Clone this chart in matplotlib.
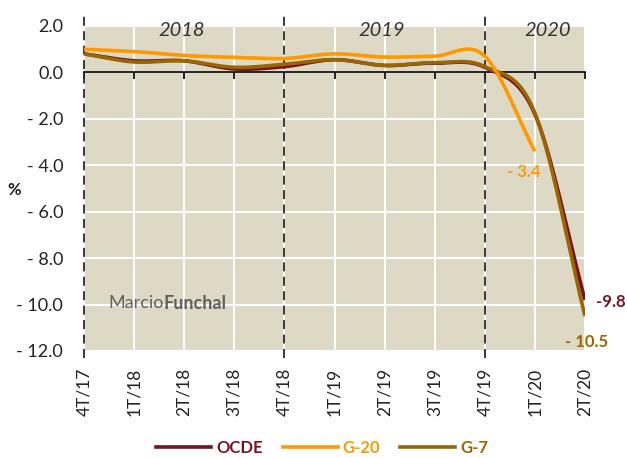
import numpy as np
import matplotlib
matplotlib.use("Agg")
import matplotlib.pyplot as plt
from matplotlib.lines import Line2D

plt.rcParams['font.family'] = ['Lato', 'DejaVu Sans']

quarters = ["4T/17", "1T/18", "2T/18", "3T/18", "4T/18", "1T/19", "2T/19",
            "3T/19", "4T/19", "1T/20", "2T/20"]
ocde = [0.8, 0.5, 0.5, 0.15, 0.25, 0.55, 0.3, 0.4, 0.22, -1.8, -9.8]
g20 = [1.0, 0.9, 0.73, 0.65, 0.6, 0.8, 0.66, 0.7, 0.7, -3.4]
g7 = [0.8, 0.45, 0.5, 0.22, 0.35, 0.55, 0.3, 0.42, 0.25, -1.75, -10.5]
years = ["2018", "2019", "2020"]
yticks = [2, 0, -2, -4, -6, -8, -10, -12]

c_ocde = "#7b1020"
c_g20 = "#ff9900"
c_g7 = "#996600"
bg = "#ddd9c4"


# Excel-like smoothed line (Catmull-Rom through the points)
def smooth(y, n=30):
    y = np.asarray(y, float)
    x = np.arange(len(y), dtype=float)
    xs, ys = [], []
    for i in range(len(y) - 1):
        p0 = y[i - 1] if i > 0 else y[i]
        p1, p2 = y[i], y[i + 1]
        p3 = y[i + 2] if i + 2 < len(y) else y[i + 1]
        t = np.linspace(0, 1, n)
        m1 = (p2 - p0) / 2 if i > 0 else (p2 - p1)
        m2 = (p3 - p1) / 2 if i + 2 < len(y) else (p2 - p1)
        h00 = 2 * t**3 - 3 * t**2 + 1
        h10 = t**3 - 2 * t**2 + t
        h01 = -2 * t**3 + 3 * t**2
        h11 = t**3 - t**2
        xs.append(x[i] + t)
        ys.append(h00 * p1 + h10 * m1 + h01 * p2 + h11 * m2)
    return np.concatenate(xs), np.concatenate(ys)


fig = plt.figure(figsize=(6.27, 4.58), dpi=100)
ax = fig.add_axes([84 / 627, 1 - 351 / 458, 501 / 627, 325 / 458])
ax.set_facecolor(bg)
ax.set_xlim(0, len(quarters) - 1)
ax.set_ylim(-12, 2)

for v in yticks:
    ax.axhline(v, color="white", lw=1.5, zorder=1)
for i in range(len(quarters)):
    ax.axvline(i, color="white", lw=1.5, zorder=1)

for s in ax.spines.values():
    s.set_visible(False)
ax.spines['bottom'].set_visible(True)
ax.spines['bottom'].set_position(('data', 0))
ax.spines['bottom'].set_linewidth(1.2)
ax.spines['bottom'].set_zorder(3)
ax.set_xticks(range(len(quarters)))
ax.tick_params(axis='x', direction='out', length=5, width=1.2, labelbottom=False)

ax.set_yticks(yticks)
ax.set_yticklabels([f"{v:.1f}" if v >= 0 else f"- {abs(v):.1f}" for v in yticks],
                   fontsize=13, color="#222222")
ax.tick_params(axis='y', length=0, pad=15)

sec = ax.secondary_xaxis(0)
sec.set_xticks(range(len(quarters)))
sec.set_xticklabels(quarters, rotation=90, fontsize=12.5, color="#222222")
sec.tick_params(length=0, pad=12)
sec.spines['bottom'].set_visible(False)

# dashed year separators
for i in [0, 4, 8]:
    ax.plot([i, i], [-12.3, 2.55], ls=(0, (5, 3)), color="#2a2a2a", lw=1.3,
            clip_on=False, zorder=4)

for label, xc in zip(years, [2, 6, 9.3]):
    ax.text(xc - 0.05, 1.8, label, ha='center', va='center', fontsize=14.5,
            style='italic', color="#333333")

x, y = smooth(ocde)
ax.plot(x, y, color=c_ocde, lw=2.6, zorder=5, solid_capstyle='butt')
x, y = smooth(g7)
ax.plot(x, y, color=c_g7, lw=2.6, zorder=6, solid_capstyle='butt')
x, y = smooth(g20)
ax.plot(x, y, color=c_g20, lw=2.6, zorder=7, solid_capstyle='butt')

ax.text(10.22, ocde[-1] - 0.1, f"-{abs(ocde[-1]):.1f}", color=c_ocde, fontsize=12,
        fontweight='bold', va='center', ha='left', clip_on=False)
ax.text(9.6, g7[-1] - 1.1, f"- {abs(g7[-1]):.1f}", color=c_g7, fontsize=12,
        fontweight='bold', va='center', ha='left', clip_on=False)
ax.text(8.45, g20[-1] - 0.9, f"- {abs(g20[-1]):.1f}", color=c_g20, fontsize=12,
        fontweight='bold', va='center', ha='left')

wm = ax.text(0.48, -9.95, "Marcio", color="#4a4a4a", fontsize=13, alpha=0.85,
             va='center', ha='left')
ax.annotate("Funchal", xy=(1, 0.5), xycoords=wm, color="#4a4a4a", fontsize=13,
            fontweight='bold', alpha=0.85, va='center', ha='left')

fig.text(14 / 627, 1 - 190 / 458, "%", fontsize=12, fontweight='bold',
         color="#222222", va='center', ha='center')

handles = [Line2D([], [], color=c, lw=2.6) for c in (c_ocde, c_g20, c_g7)]
leg = fig.legend(handles, ["OCDE", "G-20", "G-7"], loc='center',
                 bbox_to_anchor=(322 / 627, 1 - 448 / 458), ncol=3, frameon=False,
                 handlelength=3.3, columnspacing=1.2, handletextpad=0.3,
                 borderpad=0.2, prop={'weight': 'bold', 'size': 12})
for t, c in zip(leg.get_texts(), (c_ocde, c_g20, c_g7)):
    t.set_color(c)

fig.savefig("out.png", dpi=100)
